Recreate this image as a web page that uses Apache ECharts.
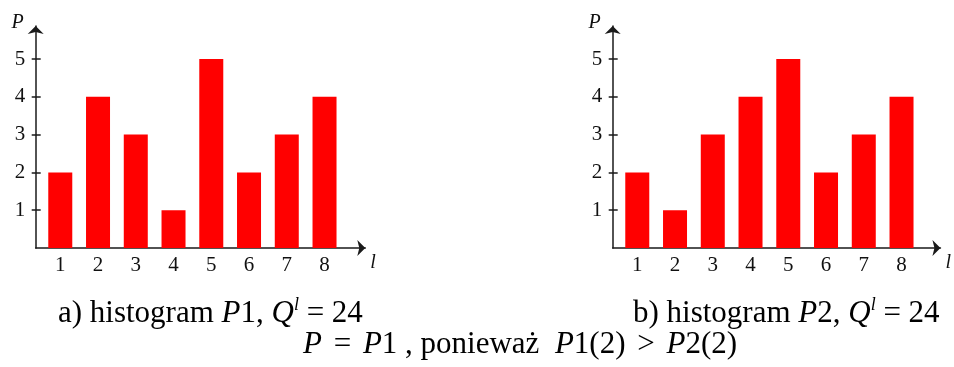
<!DOCTYPE html>
<html>
<head>
<meta charset="utf-8">
<script src="https://cdn.jsdelivr.net/npm/echarts@6/dist/echarts.min.js"></script>
<style>
  html, body { margin: 0; padding: 0; background: #fff; }
  #chart { width: 954px; height: 367px; }
</style>
</head>
<body>
<div id="chart"></div>
<script>
// Brightness levels l and the two histograms P1, P2
const levels = ['1', '2', '3', '4', '5', '6', '7', '8'];
const histP1 = [2, 4, 3, 1, 5, 2, 3, 4];
const histP2 = [2, 1, 3, 4, 5, 2, 3, 4];
const pTicks = [1, 2, 3, 4, 5];

const AXIS = '#1a1a1a';
const BAR = '#ff0000';
const SERIF = '"Liberation Serif", "Times New Roman", serif';

const chart = echarts.init(document.getElementById('chart'), null, { renderer: 'canvas' });

const grids = [], xAxes = [], yAxes = [], series = [];

function addHistogram(ox, values) {
  // grid holding the bars (category bands 1..8, values 0..5)
  const gBars = grids.length;
  grids.push({ left: 41.4 + ox, top: 59, width: 302, height: 189, containLabel: false });
  // grid holding only the arrowed axis lines, a little larger
  const gFrame = grids.length;
  grids.push({ left: 35.7 + ox, top: 26, width: 329.6, height: 222, containLabel: false });

  const xBars = xAxes.length;
  xAxes.push({
    type: 'category', gridIndex: gBars, data: levels, boundaryGap: true,
    axisLine: { show: false }, axisTick: { show: false }, splitLine: { show: false },
    axisLabel: { color: '#111', fontFamily: SERIF, fontSize: 21, margin: 7 }
  });
  xAxes.push({
    type: 'value', gridIndex: gFrame, min: 0, max: 1,
    axisLine: { show: true, symbol: ['none', 'arrow'], symbolSize: [12, 8],
      lineStyle: { color: AXIS, width: 1.5 } },
    axisTick: { show: false }, axisLabel: { show: false }, splitLine: { show: false },
    name: 'l', nameLocation: 'end', nameGap: 5,
    nameTextStyle: { color: '#111', fontFamily: SERIF, fontStyle: 'italic', fontSize: 20,
      align: 'left', verticalAlign: 'top', padding: [5, 0, 0, 0] }
  });

  // value scale of the bars; the ticks cross the axis line (axis placed 5px right of it)
  const yBars = yAxes.length;
  yAxes.push({
    type: 'value', gridIndex: gBars, min: 0, max: 5, interval: 1, position: 'left', offset: 0.7,
    axisLine: { show: false }, splitLine: { show: false },
    axisTick: { show: true, inside: false, length: 9, customValues: pTicks,
      lineStyle: { color: AXIS, width: 1.5 } },
    axisLabel: { color: '#111', fontFamily: SERIF, fontSize: 21, margin: 15.5, customValues: pTicks }
  });
  yAxes.push({
    type: 'value', gridIndex: gFrame, min: 0, max: 1,
    axisLine: { show: true, symbol: ['none', 'arrow'], symbolSize: [12, 8],
      lineStyle: { color: AXIS, width: 1.5 } },
    axisTick: { show: false }, axisLabel: { show: false }, splitLine: { show: false },
    name: 'P', nameLocation: 'end', nameGap: 3,
    nameTextStyle: { color: '#111', fontFamily: SERIF, fontStyle: 'italic', fontSize: 20,
      align: 'right', verticalAlign: 'middle', padding: [0, 12, 0, 0] }
  });

  series.push({
    type: 'bar', xAxisIndex: xBars, yAxisIndex: yBars, data: values,
    barWidth: 24, itemStyle: { color: BAR }, silent: true, animation: false
  });
}

addHistogram(0, histP1);
addHistogram(577, histP2);

const rich = {
  n: { fontFamily: SERIF, fontSize: 31, lineHeight: 36, color: '#000' },
  i: { fontFamily: SERIF, fontSize: 31, lineHeight: 36, fontStyle: 'italic', color: '#000' },
  // relation signs get a little extra room, as in typeset formulas
  m: { fontFamily: SERIF, fontSize: 31, lineHeight: 36, color: '#000', padding: [0, 4, 0, 4] },
  s: { fontFamily: SERIF, fontSize: 18, lineHeight: 18, fontStyle: 'italic', color: '#000', verticalAlign: 'top' }
};

function caption(x, y, text) {
  return {
    type: 'text', left: x, top: y, silent: true,
    style: { text: text, rich: rich, fontFamily: SERIF, fontSize: 31, fill: '#000' }
  };
}

chart.setOption({
  animation: false,
  backgroundColor: '#fff',
  grid: grids,
  xAxis: xAxes,
  yAxis: yAxes,
  series: series,
  graphic: [
    caption(58, 296, '{n|a) histogram }{i|P}{n|1, }{i|Q}{s|l}{n| = 24}'),
    caption(633, 296, '{n|b) histogram }{i|P}{n|2, }{i|Q}{s|l}{n| = 24}'),
    caption(303, 329, '{i|P}{m| = }{i|P}{n|1 , ponieważ  }{i|P}{n|1(2)}{m| > }{i|P}{n|2(2)}')
  ]
});
</script>
</body>
</html>
